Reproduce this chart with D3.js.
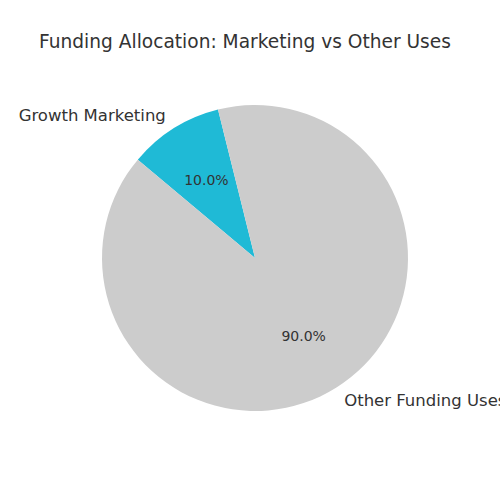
<!DOCTYPE html>
<html>
<head>
<meta charset="utf-8">
<script src="https://cdn.jsdelivr.net/npm/d3@7"></script>
<style>
  body { margin: 0; background: #fff; }
  svg { display: block; font-family: "DejaVu Sans", sans-serif; }
</style>
</head>
<body>
<svg id="chart" width="500" height="500"></svg>
<script>
// chart data
var categories = ["Growth Marketing", "Other Funding Uses"];
var shares = [10, 90];
var sliceColors = ["#1fbad6", "#cccccc"];

var svg = d3.select("#chart");
var cx = 255, cy = 258, radius = 153;

svg.append("text")
  .attr("x", 245)
  .attr("y", 48)
  .attr("text-anchor", "middle")
  .style("font-size", "18.6px")
  .style("fill", "#333")
  .text("Funding Allocation: Marketing vs Other Uses");

// matplotlib-style: start at 104deg, counterclockwise
var start = (90 - 104) * Math.PI / 180;
var pie = d3.pie().sort(null).value(function(d) { return d; })
  .startAngle(start)
  .endAngle(start - 2 * Math.PI);

var arcs = pie(shares);
var arc = d3.arc().innerRadius(0).outerRadius(radius);

var g = svg.append("g")
  .attr("transform", "translate(" + cx + "," + cy + ")");

g.selectAll("path")
  .data(arcs)
  .enter()
  .append("path")
    .attr("d", arc)
    .attr("fill", function(d, i) { return sliceColors[i]; });

function midAngle(d) { return (d.startAngle + d.endAngle) / 2; }

// outer labels
g.selectAll("text.lbl")
  .data(arcs)
  .enter()
  .append("text")
    .attr("class", "lbl")
    .attr("x", function(d) { return Math.sin(midAngle(d)) * radius * 1.1; })
    .attr("y", function(d) { return -Math.cos(midAngle(d)) * radius * 1.1; })
    .attr("dominant-baseline", "central")
    .attr("text-anchor", function(d) { return Math.sin(midAngle(d)) < 0 ? "end" : "start"; })
    .style("font-size", "16.5px")
    .style("fill", "#333")
    .text(function(d, i) { return categories[i]; });

// percentage labels
g.selectAll("text.pct")
  .data(arcs)
  .enter()
  .append("text")
    .attr("class", "pct")
    .attr("x", function(d) { return Math.sin(midAngle(d)) * radius * 0.6; })
    .attr("y", function(d) { return -Math.cos(midAngle(d)) * radius * 0.6; })
    .attr("dominant-baseline", "central")
    .attr("text-anchor", "middle")
    .style("font-size", "14px")
    .style("fill", "#333")
    .text(function(d) { return d.data.toFixed(1) + "%"; });
</script>
</body>
</html>
